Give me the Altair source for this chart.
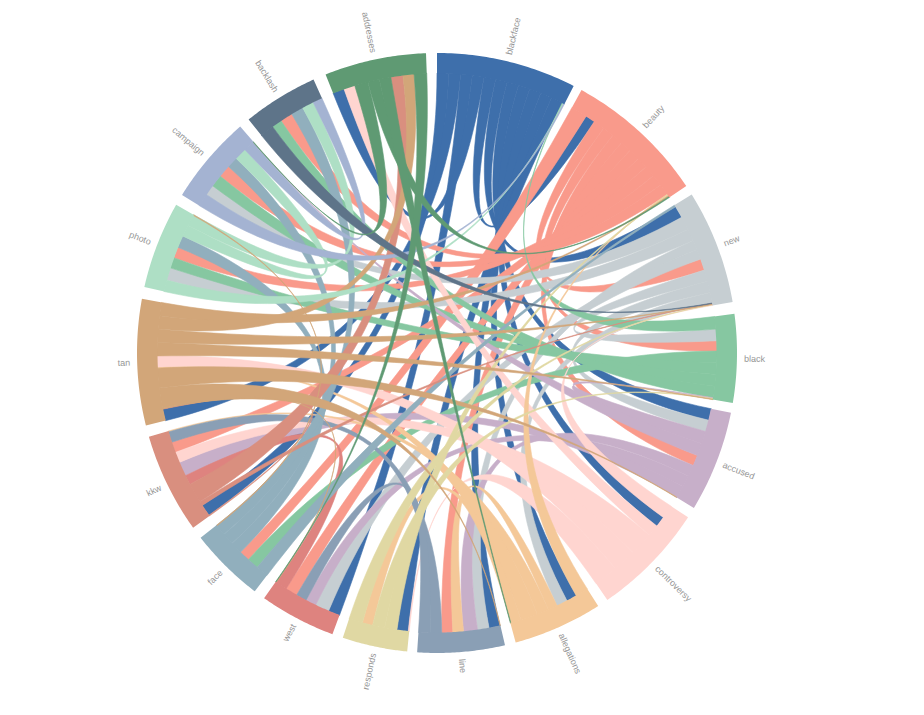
import math
import altair as alt
import pandas as pd

NAMES = ["blackface","beauty","new","black","accused","controversy","allegations","line",
         "responds","west","face","kkw","tan","photo","campaign","backlash","addresses"]
COLORS = ["#3e6fab","#f99a8b","#c6ced2","#86c7a1","#c7afc9","#ffd5d0","#f4c898","#8a9fb5",
          "#e0d8a3","#de837f","#91afbd","#d98f7f","#d2a679","#aedfc5","#a4b3d2","#5e7489","#5f9a73"]
STARTS = [0.0,28.8,58.1,82.5,101.5,123.2,147.5,166.9,185.7,200.4,217.4,234.4,256.0,282.7,301.8,321.1,338.2]
ENDS = [27.1,56.2,80.2,99.6,121.1,145.4,164.8,183.8,198.3,215.2,232.0,253.8,280.4,299.6,319.0,335.7,357.9]

blackface = [("kkw",2.4),("tan",2.4),("west",2.4),("addresses",2.4),("beauty",2.4),("new",2.4),("accused",2.4),
             ("controversy",2.4),("allegations",2.4),("line",2.4),("responds",2.4),
             ("black",.15),("photo",.15),("campaign",.2)]
beauty = [("face",3.4),("blackface",2.0),("new",2.35),("black",2.35),("accused",2.35),("line",2.35),("west",2.35),
          ("kkw",2.35),("photo",2.35),("campaign",2.35),("backlash",2.35),
          ("allegations",.2),("responds",.2),("tan",.2),("addresses",.2)]
new = [("face",.4),("blackface",2.5),("campaign",2.8),("photo",2.6),("line",2.0),("west",2.1),("beauty",2.4),
       ("black",2.4),("accused",2.4),("allegations",2.2),("backlash",.1),("kkw",.1),("tan",.1),("responds",.1),("controversy",.1)]
black = [("blackface",2.6),("new",2.4),("beauty",2.1),("face",2.4),("photo",2.4),("campaign",2.4),("backlash",2.4),
         ("accused",.15),("responds",.15),("tan",.1)]
accused = [("blackface",2.4),("new",2.4),("black",2.6),("campaign",2.6),("beauty",2.2),("line",2.4),("west",2.4),("kkw",2.5),("tan",.1)]
controversy = [("new",2.8),("blackface",2.2),("addresses",2.4),("kkw",4.9),("tan",4.9),("responds",5.0)]
allegations = [("beauty",2.7),("blackface",2.2),("new",2.3),("line",2.0),("kkw",2.5),("tan",3.6),("responds",2.2),("addresses",.1)]
line = [("tan",.1),("blackface",2.3),("new",2.4),("accused",2.9),("allegations",2.2),("beauty",2.3),("kkw",2.4),("west",2.4)]
responds = [("controversy",.2),("blackface",2.3),("beauty",2.5),("black",2.5),("allegations",2.1),("new",2.8)]
west = [("blackface",2.4),("new",2.9),("accused",2.2),("line",2.2),("beauty",2.5),("kkw",2.4),("tan",.1),("addresses",.1)]
face = [("new",2.6),("black",2.4),("beauty",2.2),("photo",2.5),("campaign",2.5),("backlash",2.4)]
kkw = [("tan",.2),("blackface",2.4),("new",.9),("addresses",4.1),("west",2.0),("accused",3.0),("controversy",2.2),
       ("beauty",2.2),("line",2.2),("allegations",.2)]
tan = [("blackface",2.2),("kkw",.1),("west",.1),("line",3.8),("accused",3.7),("allegations",.1),("controversy",2.2),
       ("black",2.5),("new",2.5),("addresses",2.5),("beauty",2.5)]
photo = [("blackface",2.4),("new",2.6),("black",2.2),("beauty",2.3),("face",2.5),("campaign",2.4),("backlash",2.5)]
campaign = [("blackface",2.7),("new",2.2),("black",2.5),("beauty",2.6),("face",2.3),("photo",2.5),("backlash",2.2),("accused",.1),("addresses",.1)]
backlash = [("new",2.9),("black",2.1),("beauty",2.6),("face",2.6),("photo",2.4),("campaign",2.0)]
addresses = [("blackface",2.4),("controversy",2.3),("campaign",2.8),("beauty",2.4),("allegations",2.4),("kkw",2.5),("tan",2.3),("west",2.6)]
SLOTS = [blackface,beauty,new,black,accused,controversy,allegations,line,responds,west,face,kkw,tan,photo,campaign,backlash,addresses]

# hairline links that run along the clockwise end of both groups: group, group, colour group
THIN_LINKS = [("photo","face","tan")]
THIN_WIDTH = 0.15

# partners whose colour shows as a stripe inside the named group
STRIPES = {
 "addresses":["blackface","controversy","kkw","tan"],
 "beauty":["blackface"],
 "new":["blackface","beauty"],
 "black":["new","beauty"],
 "accused":["blackface","new","beauty"],
 "controversy":["blackface"],
 "allegations":["blackface","new"],
 "line":["blackface","new","accused","allegations","beauty"],
 "responds":["blackface","allegations"],
 "west":["blackface","new","accused","line","beauty"],
 "face":["black","beauty"],
 "kkw":["blackface","west","accused","controversy","beauty","line"],
 "tan":["blackface","controversy"],
 "photo":["new","black","beauty","face"],
 "campaign":["new","black","beauty","face","photo"],
 "backlash":["black","beauty","face","photo","campaign"],
}

R_OUT, R_IN = 300, 280
CX, CY = 429, 345

def pt(deg, r=R_IN):
    t = math.radians(deg)
    return [r*math.sin(t), -r*math.cos(t)]

slot_pos = {}
for i, name in enumerate(NAMES):
    tot = sum(w for _, w in SLOTS[i])
    k = (ENDS[i]-STARTS[i])/tot
    a = STARTS[i]
    for partner, w in SLOTS[i]:
        slot_pos[(name, partner)] = (a, a+w*k)
        a += w*k

def arc(a0, a1, r=R_IN, n=10):
    return [pt(a0+(a1-a0)*s/n, r) for s in range(n+1)]

def quad(p, q, n=40):
    out = []
    for s in range(1, n):
        u = s/n
        out.append([(1-u)**2*p[0]+u*u*q[0], (1-u)**2*p[1]+u*u*q[1]])
    return out

def owner(a, b):
    if a in STRIPES.get(b, []): return a
    if b in STRIPES.get(a, []): return b
    wa = slot_pos[(a,b)][1]-slot_pos[(a,b)][0]
    wb = slot_pos[(b,a)][1]-slot_pos[(b,a)][0]
    return a if wa >= wb else b

def ribbon(a0, a1, b0, b1, color):
    ring = arc(a0, a1) + quad(pt(a1), pt(b0)) + arc(b0, b1) + quad(pt(b1), pt(a0))
    ring.append(ring[0])
    return {"type":"Feature","geometry":{"type":"Polygon","coordinates":[ring]},"properties":{"color":color}}

ribbons = []
for (a, b), (a0, a1) in slot_pos.items():
    if NAMES.index(a) >= NAMES.index(b) or (b, a) not in slot_pos:
        continue
    b0, b1 = slot_pos[(b, a)]
    own = NAMES.index(owner(a, b))
    ribbons.append((own, ribbon(a0, a1, b0, b1, COLORS[own])))
ribbons.sort(key=lambda r: r[0])
features = [f for _, f in ribbons]
for a, b, c in THIN_LINKS:
    ea, eb = ENDS[NAMES.index(a)], ENDS[NAMES.index(b)]
    features.append(ribbon(ea-THIN_WIDTH, ea, eb-THIN_WIDTH, eb, COLORS[NAMES.index(c)]))

rings = []
for i, name in enumerate(NAMES):
    ring = arc(STARTS[i], ENDS[i], R_OUT, 40) + arc(ENDS[i], STARTS[i], R_IN-0.5, 40)
    ring.append(ring[0])
    rings.append({"type":"Feature","geometry":{"type":"Polygon","coordinates":[ring]},
                  "properties":{"color":COLORS[i],"name":name}})

rows = []
for i, name in enumerate(NAMES):
    m = (STARTS[i]+ENDS[i])/2
    x, y = pt(m, 307)
    right = m < 180
    rows.append({"name":name,"x":x,"y":y,"angle":(m-90)%360 if right else (m+90)%360,"side":"r" if right else "l"})
labels = pd.DataFrame(rows)

proj = dict(type="identity", scale=1, translate=[CX, CY])

def shapes(feats, sw):
    return alt.Chart(alt.Data(values=feats)).mark_geoshape(filled=True, strokeWidth=sw).encode(
        color=alt.Color("properties.color:N", scale=None),
        stroke=alt.Stroke("properties.color:N", scale=None)).project(**proj)

def text(side, align):
    return alt.Chart(labels[labels.side == side]).mark_text(
        align=align, baseline="middle", font="Liberation Sans", fontSize=9, color="#969696").encode(
        longitude="x:Q", latitude="y:Q", angle=alt.Angle("angle:Q", scale=None), text="name:N").project(**proj)

chart = alt.layer(shapes(features, 0.6), shapes(rings, 0), text("r","left"), text("l","right")).properties(
    width=908, height=699, padding=0).configure_view(stroke=None)
chart.save("out.html", embed_options={"renderer": "svg", "actions": False})
